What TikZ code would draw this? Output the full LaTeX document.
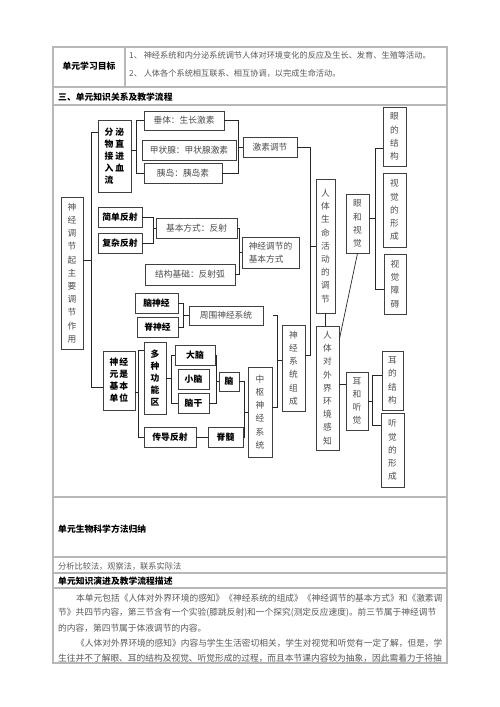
\documentclass[tikz,border=0pt]{standalone}
\usepackage{fontspec}
\setmainfont{Noto Sans CJK SC}
\usetikzlibrary{positioning}

\tikzset{
  box/.style={draw=black!75, line width=0.6pt, inner sep=0pt, align=center,
    text=black!70, font=\fontsize{8.7}{13.2}\selectfont},
  bbox/.style={box, text=black, font=\bfseries\fontsize{8.8}{12}\selectfont},
  brk/.style={draw=black!85, line width=0.7pt},
  rule/.style={draw=black!28, line width=1.2pt},
  cell/.style={inner sep=0pt, anchor=west, text=black!65, font=\fontsize{8.2}{10}\selectfont},
  head/.style={inner sep=0pt, anchor=west, text=black, font=\bfseries\fontsize{8.8}{10}\selectfont},
  para/.style={inner sep=0pt, anchor=west, text=black!65, font=\fontsize{8.72}{10}\selectfont},
}

\begin{document}
\begin{tikzpicture}[x=1pt, y=-1pt]

	\fill[white] (0,0) rectangle (500,707);
	\useasboundingbox (0,0) rectangle (500,707);

	% Table dimensions
	\def\tabL{53}
	\def\tabR{447}
	\def\tabT{47}
	\def\tabB{663}

	% Table
	\draw[rule] (\tabL,\tabT) rectangle (\tabR,\tabB);
	\draw[rule] (125,\tabT) -- (125,87);
	\draw[rule] (\tabL,87) -- (\tabR,87);
	\draw[rule] (\tabL,105) -- (\tabR,105);
	\draw[rule] (\tabL,497) -- (\tabR,497);
	\draw[rule] (\tabL,557) -- (\tabR,557);
	\draw[rule] (\tabL,573) -- (\tabR,573);
	\draw[rule] (\tabL,588) -- (\tabR,588);

	% Table texts
	\node[head, anchor=center] (goal) at (89,66) {单元学习目标};
	\node[cell] (goal1) at (129,55) {1、 神经系统和内分泌系统调节人体对环境变化的反应及生长、发育、生殖等活动。};
	\node[cell] (goal2) at (129,73) {2、 人体各个系统相互联系、相互协调，以完成生命活动。};
	\node[head] (flow) at (58,97) {三、单元知识关系及教学流程};
	\node[head] (method) at (58,529) {单元生物科学方法归纳};
	\node[cell] (methods) at (58,566) {分析比较法，观察法，联系实际法};
	\node[head] (desc) at (58,581) {单元知识演进及教学流程描述};
	\node[para] (p1) at (76,598) {本单元包括《人体对外界环境的感知》《神经系统的组成》《神经调节的基本方式》和《激素调};
	\node[para] (p2) at (58,613) {节》共四节内容，第三节含有一个实验(膝跳反射)和一个探究(测定反应速度)。前三节属于神经调节};
	\node[para] (p3) at (58,628) {的内容，第四节属于体液调节的内容。};
	\node[para] (p4) at (76,643) {《人体对外界环境的感知》内容与学生生活密切相关，学生对视觉和听觉有一定了解，但是，学};
	\node[para] (p5) at (58,658) {生往并不了解眼、耳的结构及视觉、听觉形成的过程，而且本节课内容较为抽象，因此需着力于将抽};

	% Left column
	\node[box, minimum width=22pt, minimum height=152pt] (shenjing) at (72,273) {神\\经\\调\\节\\起\\主\\要\\调\\节\\作\\用};
	\node[bbox, minimum width=33pt, minimum height=72pt, align=left] (fenmi) at (114.5,156) {分\hspace{2pt}泌\\物\hspace{2pt}直\\接\hspace{2pt}进\\入\hspace{2pt}血\\流};
	\node[bbox, minimum width=44pt, minimum height=20pt] (jiandan) at (120,217) {简单反射};
	\node[bbox, minimum width=44pt, minimum height=20pt] (fuza) at (120,243) {复杂反射};
	\node[bbox, minimum width=32pt, minimum height=59pt] (shenjingyuan) at (119,380.5) {神\hspace{1pt}经\\元\hspace{1pt}是\\基\hspace{1pt}本\\单\hspace{1pt}位};

	% Hormones
	\node[box, minimum width=80pt, minimum height=19pt] (chuiti) at (184,120.5) {垂体：生长激素};
	\node[box, minimum width=94pt, minimum height=20pt] (jiazhuang) at (189,150) {甲状腺：甲状腺激素};
	\node[box, minimum width=78pt, minimum height=20pt] (yidao) at (183,173) {胰岛：胰岛素};
	\node[box, minimum width=54pt, minimum height=20pt] (jisu) at (270,147) {激素调节};

	% Reflex
	\node[box, minimum width=81pt, minimum height=20pt] (jiben) at (196.5,228) {基本方式：反射};
	\node[box, minimum width=90pt, minimum height=21pt] (jiegou) at (190,274.5) {结构基础：反射弧};
	\node[box, minimum width=57pt, minimum height=31pt, align=left] (fangshi) at (270.5,252.5) {神经调节的\\基本方式};

	% Nervous system
	\node[bbox, minimum width=43pt, minimum height=20pt] (naoshen) at (156.5,303) {脑神经};
	\node[bbox, minimum width=41pt, minimum height=20pt] (jishen) at (157.5,327) {脊神经};
	\node[box, minimum width=74pt, minimum height=19pt] (zhouwei) at (226,315.5) {周围神经系统};
	\node[bbox, minimum width=22pt, minimum height=72pt] (duozhong) at (155,378) {多\\种\\功\\能\\区};
	\node[bbox, minimum width=40pt, minimum height=20pt] (danao) at (195,355) {大脑};
	\node[bbox, minimum width=31pt, minimum height=20pt] (xiaonao) at (193.5,379) {小脑};
	\node[bbox, minimum width=31pt, minimum height=20pt] (naogan) at (193.5,403) {脑干};
	\node[bbox, minimum width=20pt, minimum height=19pt] (nao) at (229,381.5) {脑};
	\node[bbox, minimum width=52pt, minimum height=20pt] (chuandao) at (170,437) {传导反射};
	\node[bbox, minimum width=35pt, minimum height=20pt] (jisui) at (225.5,437) {脊髓};
	\node[box, minimum width=24pt, minimum height=90pt] (zhongshu) at (260,412) {中\\枢\\神\\经\\系\\统};
	\node[box, minimum width=23pt, minimum height=86pt] (zucheng) at (293.5,368) {神\\经\\系\\统\\组\\成};

	% Right column
	\node[box, minimum width=19pt, minimum height=134pt] (tiaojie) at (325.5,246) {人\\体\\生\\命\\活\\动\\的\\调\\节};
	\node[box, minimum width=23pt, minimum height=124pt] (ganzhi) at (327.5,388) {人\\体\\对\\外\\界\\环\\境\\感\\知};
	\node[box, minimum width=23pt, minimum height=59pt] (yanhe) at (357.5,223.5) {眼\\和\\视\\觉};
	\node[box, minimum width=23pt, minimum height=59pt] (yanjie) at (394.5,136.5) {眼\\的\\结\\构};
	\node[box, minimum width=23pt, minimum height=74pt] (shijue) at (394.5,210) {视\\觉\\的\\形\\成};
	\node[box, minimum width=22pt, minimum height=60pt] (zhangai) at (395,284) {视\\觉\\障\\碍};
	\node[box, minimum width=22pt, minimum height=58pt] (erhe) at (357,401) {耳\\和\\听\\觉};
	\node[box, minimum width=21pt, minimum height=59pt] (erjie) at (392.5,380.5) {耳\\的\\结\\构};
	\node[box, minimum width=23pt, minimum height=74pt] (tingjue) at (392.5,450) {听\\觉\\的\\形\\成};

	% Brackets
	\draw[brk] ([yshift=24pt]fenmi.west) -- ++(-6,0) |- ([yshift=-7pt]shenjingyuan.west);
	\draw[brk] ([yshift=13pt]shenjing.east) -- ++(9,0);
	\draw[brk] (chuiti.west) -- ++(-7,0) |- (yidao.west);
	\draw[brk] (fenmi.east |- jiazhuang.west) -- ++(6,0);
	\draw[brk] (chuiti.east) -- ++(14,0) |- (yidao.east);
	\draw[brk] (jisu.west) -- ++(-5,0);
	\draw[brk] (jiandan.east) -- ++(11,0) |- (fuza.east);
	\draw[brk] (jiben.west) -- ++(-3,0);
	\draw[brk] (jiben.east) -- ++(2,0) |- (jiegou.east);
	\draw[brk] (fangshi.west) -- ++(-3,0);
	\draw[brk] (naoshen.east) -- ++(5,0) |- (jishen.east);
	\draw[brk] (zhouwei.west) -- ++(-6,0);
	\draw[brk] ([xshift=10pt]zhouwei.east) -- ++(4,0) |- ([yshift=5pt]zhongshu.east);
	\draw[brk] ([yshift=8pt]zucheng.west) -- ++(-5,0);
	\draw[brk] (jisu.east) -- ++(13,0) |- ([yshift=13pt]zucheng.east);
	\draw[brk] (tiaojie.west) -- ++(-6,0);
	\draw[brk] ([yshift=28pt]duozhong.west) -- ++(-5,0) |- (chuandao.west);
	\draw[brk] ([yshift=-12pt]shenjingyuan.east) -- ++(4,0);
	\draw[brk] (danao.west) -- ++(-3,0) |- (naogan.west);
	\draw[brk] (duozhong.east) -- ++(6,0);
	\draw[brk] (danao.east) -- ++(1,0) |- (naogan.east);
	\draw[brk] (nao.west) -- ++(-3,0);
	\draw[brk] (nao.east) -- ++(5,0) |- (jisui.east);
	\draw[brk] (zhongshu.west) -- ++(-4,0);
	\draw[brk] ([yshift=-12pt]yanjie.west) -- ++(-7,0) |- ([yshift=-5pt]zhangai.west);
	\draw[brk] ([yshift=5pt]yanhe.east) -- ++(7,0);
	\draw[brk] ([yshift=5pt]erjie.west) -- ++(-9,0) |- ([yshift=25pt]tingjue.west);
	\draw[brk] (erhe.east) -- ++(5,0);

	% Links
	\draw[brk] (tiaojie.south) -- (tiaojie.south |- ganzhi.north);
	\draw[brk] ([yshift=-14pt]ganzhi.north east) -- (yanhe.south);
	\draw[brk] ([yshift=17pt]erhe.west) -- ++(-7,0);
	\draw[brk] (chuandao.east) -- (jisui.west);

\end{tikzpicture}
\end{document}
